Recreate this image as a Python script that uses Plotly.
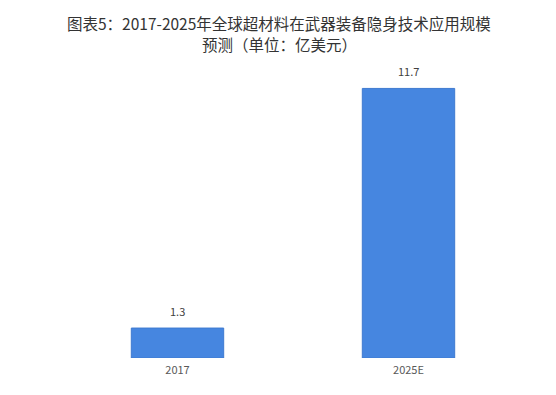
import plotly.graph_objects as go

categories = ["2017", "2025E"]
values = [1.3, 11.7]
title_line1 = "图表5：2017-2025年全球超材料在武器装备隐身技术应用规模"
title_line2 = "预测（单位：亿美元）"

bar_color = "#4686E0"
font_family = "Noto Sans CJK SC, Microsoft YaHei, sans-serif"

W, H = 556, 395
OFF = 8  # page body margin
L, R, T, B = 62 - OFF, 32 + OFF, 70 - OFF, 37 + OFF
ph = H - T - B
pw = W - L - R


def px_to_paper_y(py):
    return (H - B - (py - OFF)) / ph


def px_to_paper_x(px):
    return ((px - OFF) - L) / pw


fig = go.Figure()
fig.add_trace(go.Bar(
    x=categories, y=values,
    marker=dict(color=bar_color, line=dict(color="#3F7AD0", width=1)),
    hoverinfo="skip",
))
for i, v in enumerate(values):
    fig.add_annotation(x=i, y=v, text=f"{v}", showarrow=False, yanchor="bottom",
                       yshift=7, font=dict(size=11, color="#404040", family=font_family))

fig.add_annotation(x=px_to_paper_x(279), y=px_to_paper_y(10), xref="paper", yref="paper",
                   text=title_line1, showarrow=False, xanchor="center", yanchor="top",
                   font=dict(size=15.5, color="#333333", family=font_family))
fig.add_annotation(x=px_to_paper_x(279), y=px_to_paper_y(44), xref="paper", yref="paper",
                   text=title_line2, showarrow=False, xanchor="center", yanchor="middle",
                   font=dict(size=15.5, color="#333333", family=font_family))

fig.update_layout(
    width=W, height=H,
    margin=dict(l=L, r=R, t=T, b=B),
    paper_bgcolor="white", plot_bgcolor="white",
    bargap=0.6,
    showlegend=False,
    xaxis=dict(type="category", range=[-0.5, len(categories) - 0.5],
               showline=False, showgrid=False, ticks="", ticklabelstandoff=4,
               tickfont=dict(size=11, color="#595959", family=font_family)),
    yaxis=dict(range=[0, 12.5], visible=False, showgrid=False, zeroline=False),
)

fig.write_html("out.html")
